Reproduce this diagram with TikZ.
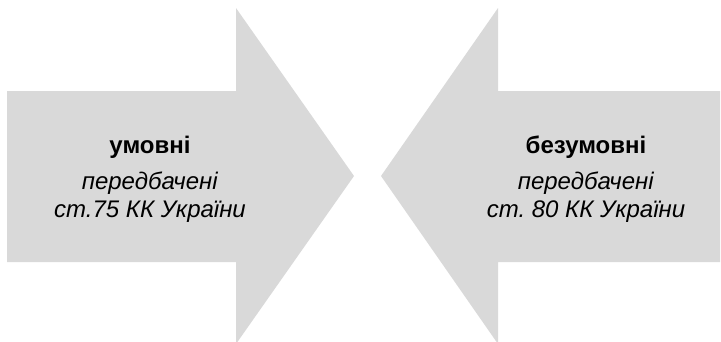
\documentclass[tikz,border=0pt]{standalone}
\usepackage{fontspec}
\setmainfont{Liberation Sans}
\frenchspacing
\newlength{\du}
\setlength{\du}{1pt}
\begin{document}
\begin{tikzpicture}
\pgftransformxscale{1.000000}
\pgftransformyscale{-1.000000}
\definecolor{arrowfill}{rgb}{0.850000, 0.850000, 0.850000}
\definecolor{dialinecolor}{rgb}{0.000000, 0.000000, 0.000000}
\tikzset{arrowtext/.style={align=center, inner sep=0pt, text=dialinecolor,
  font=\fontsize{24\du}{28\du}\selectfont}}
\useasboundingbox (0\du,0\du) rectangle (721\du,341\du);
% left arrow, pointing right
\fill[arrowfill] (7\du,91\du)--(236\du,91\du)--(236\du,8\du)--(354\du,176\du)--(236\du,344\du)--(236\du,262\du)--(7\du,262\du)--cycle;
% right arrow, pointing left
\fill[arrowfill] (720\du,91\du)--(498\du,91\du)--(498\du,8\du)--(381\du,176\du)--(498\du,344\du)--(498\du,262\du)--(720\du,262\du)--cycle;
% setfont left to latex
\node[arrowtext] (umovni) at (150\du,179\du){\textbf{умовні}\\[8\du]\textit{передбачені}\\\textit{ст.75 КК України}};
% setfont left to latex
\node[arrowtext] (bezumovni) at (586\du,179\du){\textbf{безумовні}\\[8\du]\textit{передбачені}\\\textit{ст. 80 КК України}};
\end{tikzpicture}
\end{document}
